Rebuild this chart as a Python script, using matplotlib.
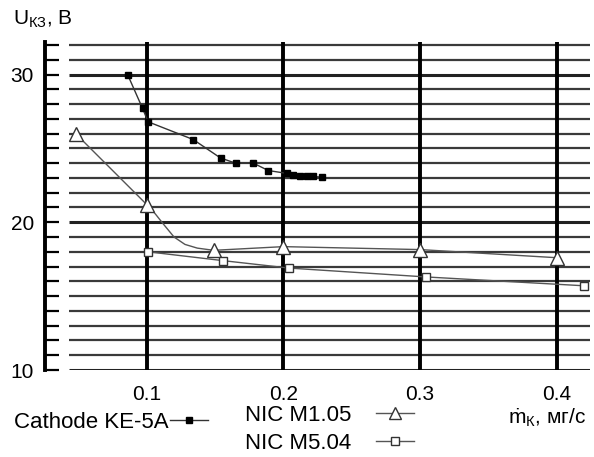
import matplotlib
matplotlib.use("Agg")
import matplotlib.pyplot as plt
from matplotlib.ticker import MultipleLocator

plt.rcParams['font.family'] = ['Liberation Sans', 'DejaVu Sans']
plt.rcParams['mathtext.fontset'] = 'custom'
plt.rcParams['mathtext.rm'] = 'Liberation Sans'

# Cathode KE-5A (filled squares)
ke_x = [0.086, 0.097, 0.101, 0.134, 0.154, 0.165, 0.178, 0.189, 0.203, 0.207, 0.212, 0.217, 0.222, 0.228]
ke_y = [30.0, 27.7, 26.8, 25.6, 24.35, 24.0, 24.0, 23.5, 23.3, 23.2, 23.15, 23.15, 23.1, 23.05]

# NIC M1.05 (open triangles) - markers and the drawn curve
m105_x = [0.048, 0.100, 0.149, 0.200, 0.300, 0.400]
m105_y = [26.0, 21.2, 18.1, 18.35, 18.15, 17.6]
m105_curve_x = [0.048, 0.100, 0.106, 0.112, 0.120, 0.128, 0.137, 0.149, 0.200, 0.300, 0.400]
m105_curve_y = [26.0, 21.2, 20.6, 19.9, 19.0, 18.5, 18.25, 18.1, 18.35, 18.15, 17.6]

# NIC M5.04 (open squares)
m504_x = [0.101, 0.156, 0.204, 0.304, 0.420]
m504_y = [18.0, 17.4, 16.9, 16.3, 15.7]

x_ticks = [0.1, 0.2, 0.3, 0.4]
y_ticks = [10, 20, 30]
y_grid = list(range(10, 33))

fig = plt.figure(figsize=(5.94, 4.57), dpi=100)
ax = fig.add_axes([45/594, 1-370/457, 545/594, 328/457])
ax.set_xlim(0.0256, 0.4243)
ax.set_ylim(10, 32.2)

# grid
for v in y_grid:
    lw = 2.2 if v in y_ticks else 1.6
    ax.hlines(v, 0.043, 0.4243, color='#222222' if v in y_ticks else '#3a3a3a', lw=lw, zorder=1)
ax.vlines(x_ticks, 10, 32.2, color='black', lw=2.8, zorder=1)

for s in ['top', 'right', 'bottom']:
    ax.spines[s].set_visible(False)
ax.spines['left'].set_linewidth(2.8)

ax.set_xticks(x_ticks)
ax.set_xticklabels(['0.1', '0.2', '0.3', '0.4'])
ax.set_yticks(y_ticks)
ax.yaxis.set_minor_locator(MultipleLocator(1))
ax.tick_params(axis='x', length=0, pad=11, labelsize=15)
ax.tick_params(axis='y', which='both', direction='in', length=10, width=1.6, pad=8, labelsize=15)

lc = '#555555'
l1, = ax.plot(ke_x, ke_y, color='#333333', lw=1.0, marker='s', ms=5, mfc='black', mec='black',
              zorder=3, label='Cathode KE-5A')
ax.plot(m105_curve_x, m105_curve_y, color=lc, lw=1.0, zorder=3)
ax.plot(m105_x, m105_y, ls='none', marker='^', ms=10, mfc='white', mec='#333333', mew=1.0, zorder=4)
l2, = ax.plot([], [], color=lc, lw=1.0, marker='^', ms=9, mfc='white', mec='#333333', label='NIC M1.05')
l3, = ax.plot(m504_x, m504_y, color=lc, lw=1.0, marker='s', ms=6, mfc='white', mec='#333333', mew=1.0,
              zorder=4, label='NIC M5.04')

fig.text(13/594, 1-19/457, r'U$_{\rm КЗ}$, В', fontsize=15, va='center', ha='left')
fig.text(586/594, 1-418/457, r'ṁ$_{\rm К}$, мг/с', fontsize=15, va='center', ha='right')

fig.legend(handles=[l1], loc='center left', bbox_to_anchor=(14/594, 1-422/457), frameon=False,
           markerfirst=False, fontsize=16, handlelength=1.7, handletextpad=0.05,
           borderpad=0, borderaxespad=0)
fig.legend(handles=[l2, l3], loc='upper left', bbox_to_anchor=(245/594, 1-405/457), frameon=False,
           markerfirst=False, fontsize=16, handlelength=1.7, handletextpad=1.1,
           labelspacing=0.3, borderpad=0, borderaxespad=0)

fig.savefig('out.png', dpi=100)
